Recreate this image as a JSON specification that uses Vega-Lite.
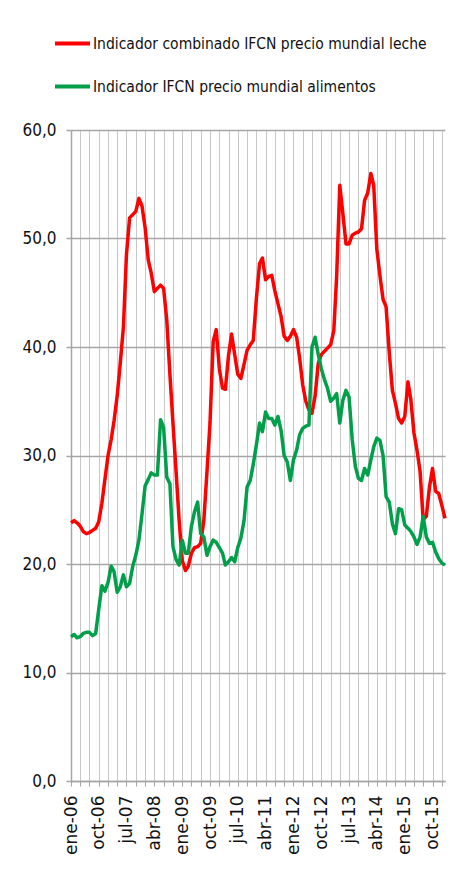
{
  "$schema": "https://vega.github.io/schema/vega-lite/v6.json",
  "width": 374,
  "height": 651,
  "autosize": {"type": "none"},
  "padding": {"left": 71, "top": 130, "right": 5, "bottom": 93},
  "background": "white",
  "config": {
    "view": {"stroke": null},
    "axis": {"domainColor": "#a6a6a6", "tickColor": "#a6a6a6"}
  },
  "data": {
    "values": [
      {"fecha":"2006-01-01","leche":23.8,"alimentos":13.3},
      {"fecha":"2006-02-01","leche":24.0,"alimentos":13.5},
      {"fecha":"2006-03-01","leche":23.8,"alimentos":13.2},
      {"fecha":"2006-04-01","leche":23.5,"alimentos":13.3},
      {"fecha":"2006-05-01","leche":23.0,"alimentos":13.6},
      {"fecha":"2006-06-01","leche":22.8,"alimentos":13.7},
      {"fecha":"2006-07-01","leche":22.9,"alimentos":13.7},
      {"fecha":"2006-08-01","leche":23.1,"alimentos":13.4},
      {"fecha":"2006-09-01","leche":23.3,"alimentos":13.6},
      {"fecha":"2006-10-01","leche":23.9,"alimentos":15.8},
      {"fecha":"2006-11-01","leche":25.6,"alimentos":18.0},
      {"fecha":"2006-12-01","leche":27.8,"alimentos":17.5},
      {"fecha":"2007-01-01","leche":30.0,"alimentos":18.3},
      {"fecha":"2007-02-01","leche":31.5,"alimentos":19.8},
      {"fecha":"2007-03-01","leche":33.2,"alimentos":19.3},
      {"fecha":"2007-04-01","leche":35.5,"alimentos":17.4},
      {"fecha":"2007-05-01","leche":38.5,"alimentos":17.9},
      {"fecha":"2007-06-01","leche":41.8,"alimentos":19.0},
      {"fecha":"2007-07-01","leche":48.5,"alimentos":17.9},
      {"fecha":"2007-08-01","leche":51.9,"alimentos":18.2},
      {"fecha":"2007-09-01","leche":52.2,"alimentos":19.8},
      {"fecha":"2007-10-01","leche":52.5,"alimentos":20.8},
      {"fecha":"2007-11-01","leche":53.7,"alimentos":22.2},
      {"fecha":"2007-12-01","leche":53.0,"alimentos":24.6},
      {"fecha":"2008-01-01","leche":51.0,"alimentos":27.2},
      {"fecha":"2008-02-01","leche":48.0,"alimentos":27.8},
      {"fecha":"2008-03-01","leche":46.8,"alimentos":28.4},
      {"fecha":"2008-04-01","leche":45.1,"alimentos":28.2},
      {"fecha":"2008-05-01","leche":45.4,"alimentos":28.2},
      {"fecha":"2008-06-01","leche":45.7,"alimentos":33.3},
      {"fecha":"2008-07-01","leche":45.4,"alimentos":32.6},
      {"fecha":"2008-08-01","leche":42.5,"alimentos":28.0},
      {"fecha":"2008-09-01","leche":37.5,"alimentos":27.4},
      {"fecha":"2008-10-01","leche":33.0,"alimentos":21.6},
      {"fecha":"2008-11-01","leche":28.5,"alimentos":20.4},
      {"fecha":"2008-12-01","leche":24.0,"alimentos":19.9},
      {"fecha":"2009-01-01","leche":20.3,"alimentos":22.2},
      {"fecha":"2009-02-01","leche":19.4,"alimentos":21.0},
      {"fecha":"2009-03-01","leche":19.8,"alimentos":21.0},
      {"fecha":"2009-04-01","leche":21.0,"alimentos":23.5},
      {"fecha":"2009-05-01","leche":21.5,"alimentos":24.8},
      {"fecha":"2009-06-01","leche":21.6,"alimentos":25.7},
      {"fecha":"2009-07-01","leche":21.9,"alimentos":22.8},
      {"fecha":"2009-08-01","leche":24.0,"alimentos":22.5},
      {"fecha":"2009-09-01","leche":28.5,"alimentos":20.8},
      {"fecha":"2009-10-01","leche":33.0,"alimentos":21.6},
      {"fecha":"2009-11-01","leche":40.5,"alimentos":22.2},
      {"fecha":"2009-12-01","leche":41.6,"alimentos":22.0},
      {"fecha":"2010-01-01","leche":38.0,"alimentos":21.5},
      {"fecha":"2010-02-01","leche":36.2,"alimentos":21.0},
      {"fecha":"2010-03-01","leche":36.1,"alimentos":19.9},
      {"fecha":"2010-04-01","leche":39.2,"alimentos":20.2},
      {"fecha":"2010-05-01","leche":41.2,"alimentos":20.6},
      {"fecha":"2010-06-01","leche":39.3,"alimentos":20.2},
      {"fecha":"2010-07-01","leche":37.5,"alimentos":21.5},
      {"fecha":"2010-08-01","leche":37.1,"alimentos":22.4},
      {"fecha":"2010-09-01","leche":38.4,"alimentos":24.0},
      {"fecha":"2010-10-01","leche":39.7,"alimentos":27.1},
      {"fecha":"2010-11-01","leche":40.2,"alimentos":27.7},
      {"fecha":"2010-12-01","leche":40.6,"alimentos":29.2},
      {"fecha":"2011-01-01","leche":44.5,"alimentos":31.0},
      {"fecha":"2011-02-01","leche":47.7,"alimentos":33.0},
      {"fecha":"2011-03-01","leche":48.2,"alimentos":32.2},
      {"fecha":"2011-04-01","leche":46.2,"alimentos":34.0},
      {"fecha":"2011-05-01","leche":46.5,"alimentos":33.4},
      {"fecha":"2011-06-01","leche":46.6,"alimentos":33.4},
      {"fecha":"2011-07-01","leche":45.2,"alimentos":32.8},
      {"fecha":"2011-08-01","leche":44.0,"alimentos":33.6},
      {"fecha":"2011-09-01","leche":42.8,"alimentos":32.3},
      {"fecha":"2011-10-01","leche":41.0,"alimentos":30.0},
      {"fecha":"2011-11-01","leche":40.6,"alimentos":29.4},
      {"fecha":"2011-12-01","leche":41.0,"alimentos":27.7},
      {"fecha":"2012-01-01","leche":41.6,"alimentos":29.6},
      {"fecha":"2012-02-01","leche":40.9,"alimentos":30.5},
      {"fecha":"2012-03-01","leche":39.0,"alimentos":31.9},
      {"fecha":"2012-04-01","leche":36.5,"alimentos":32.5},
      {"fecha":"2012-05-01","leche":35.0,"alimentos":32.7},
      {"fecha":"2012-06-01","leche":34.2,"alimentos":32.8},
      {"fecha":"2012-07-01","leche":33.9,"alimentos":40.0},
      {"fecha":"2012-08-01","leche":35.5,"alimentos":40.9},
      {"fecha":"2012-09-01","leche":38.5,"alimentos":39.3},
      {"fecha":"2012-10-01","leche":39.3,"alimentos":38.0},
      {"fecha":"2012-11-01","leche":39.6,"alimentos":37.0},
      {"fecha":"2012-12-01","leche":39.9,"alimentos":36.2},
      {"fecha":"2013-01-01","leche":40.2,"alimentos":35.0},
      {"fecha":"2013-02-01","leche":41.5,"alimentos":35.3},
      {"fecha":"2013-03-01","leche":46.5,"alimentos":35.7},
      {"fecha":"2013-04-01","leche":54.9,"alimentos":33.0},
      {"fecha":"2013-05-01","leche":52.3,"alimentos":35.1},
      {"fecha":"2013-06-01","leche":49.5,"alimentos":36.0},
      {"fecha":"2013-07-01","leche":49.5,"alimentos":35.4},
      {"fecha":"2013-08-01","leche":50.3,"alimentos":31.5},
      {"fecha":"2013-09-01","leche":50.5,"alimentos":29.0},
      {"fecha":"2013-10-01","leche":50.6,"alimentos":27.9},
      {"fecha":"2013-11-01","leche":50.9,"alimentos":27.7},
      {"fecha":"2013-12-01","leche":53.5,"alimentos":28.8},
      {"fecha":"2014-01-01","leche":54.2,"alimentos":28.2},
      {"fecha":"2014-02-01","leche":56.0,"alimentos":29.6},
      {"fecha":"2014-03-01","leche":54.9,"alimentos":30.8},
      {"fecha":"2014-04-01","leche":49.0,"alimentos":31.6},
      {"fecha":"2014-05-01","leche":46.6,"alimentos":31.4},
      {"fecha":"2014-06-01","leche":44.4,"alimentos":30.0},
      {"fecha":"2014-07-01","leche":43.7,"alimentos":26.2},
      {"fecha":"2014-08-01","leche":39.5,"alimentos":25.7},
      {"fecha":"2014-09-01","leche":36.0,"alimentos":23.7},
      {"fecha":"2014-10-01","leche":34.8,"alimentos":22.8},
      {"fecha":"2014-11-01","leche":33.4,"alimentos":25.1},
      {"fecha":"2014-12-01","leche":33.0,"alimentos":25.0},
      {"fecha":"2015-01-01","leche":33.6,"alimentos":23.6},
      {"fecha":"2015-02-01","leche":36.8,"alimentos":23.3},
      {"fecha":"2015-03-01","leche":35.2,"alimentos":23.0},
      {"fecha":"2015-04-01","leche":32.1,"alimentos":22.5},
      {"fecha":"2015-05-01","leche":30.5,"alimentos":21.8},
      {"fecha":"2015-06-01","leche":28.5,"alimentos":22.5},
      {"fecha":"2015-07-01","leche":24.1,"alimentos":24.4},
      {"fecha":"2015-08-01","leche":24.4,"alimentos":22.5},
      {"fecha":"2015-09-01","leche":27.1,"alimentos":21.9},
      {"fecha":"2015-10-01","leche":28.8,"alimentos":22.0},
      {"fecha":"2015-11-01","leche":26.7,"alimentos":21.1},
      {"fecha":"2015-12-01","leche":26.5,"alimentos":20.5},
      {"fecha":"2016-01-01","leche":25.4,"alimentos":20.1},
      {"fecha":"2016-02-01","leche":24.2,"alimentos":19.9}
    ]
  },
  "transform": [{"fold": ["leche", "alimentos"], "as": ["serie", "valor"]}],
  "mark": {"type": "line", "strokeWidth": 3.5, "strokeJoin": "round"},
  "encoding": {
    "x": {
      "field": "fecha",
      "type": "temporal",
      "scale": {"type": "utc"},
      "axis": {
        "title": null,
        "tickCount": {"interval": "month", "step": 3},
        "grid": true,
        "gridColor": "#c8c8c8",
        "gridWidth": 1,
        "tickSize": 5,
        "domainWidth": 1.5,
        "labelAngle": 270,
        "labelAlign": "right",
        "labelBaseline": "middle",
        "labelPadding": 9,
        "labelFlush": false,
        "labelOverlap": false,
        "labelFont": "DejaVu Sans",
        "labelFontSize": 17,
        "labelColor": "#111111",
        "labelExpr": "((utcyear(datum.value) - 2006) * 12 + utcmonth(datum.value)) % 9 == 0 ? ['ene','feb','mar','abr','may','jun','jul','ago','sep','oct','nov','dic'][utcmonth(datum.value)] + '-' + utcFormat(datum.value, '%y') : ''"
      }
    },
    "y": {
      "field": "valor",
      "type": "quantitative",
      "scale": {"domain": [0, 60], "nice": false},
      "axis": {
        "title": null,
        "values": [0, 10, 20, 30, 40, 50, 60],
        "grid": true,
        "gridColor": "#a6a6a6",
        "gridWidth": 1.5,
        "tickSize": 5,
        "tickWidth": 1.5,
        "domainWidth": 1.5,
        "labelPadding": 10,
        "labelFont": "DejaVu Sans Condensed, DejaVu Sans",
        "labelFontSize": 17,
        "labelColor": "#111111",
        "labelExpr": "replace(format(datum.value, '.1f'), '.', ',')"
      }
    },
    "color": {
      "field": "serie",
      "type": "nominal",
      "scale": {"domain": ["leche", "alimentos"], "range": ["#ff0000", "#00a04b"]},
      "legend": {
        "title": null,
        "orient": "none",
        "legendX": -18,
        "legendY": -106,
        "symbolType": "stroke",
        "symbolSize": 1225,
        "symbolStrokeWidth": 4,
        "labelOffset": 1,
        "rowPadding": 15,
        "labelFont": "DejaVu Sans Condensed, DejaVu Sans",
        "labelFontSize": 15.5,
        "labelColor": "#111111",
        "labelLimit": 400,
        "labelExpr": "datum.label == 'leche' ? 'Indicador combinado IFCN precio mundial leche' : 'Indicador IFCN precio mundial alimentos'"
      }
    }
  }
}
